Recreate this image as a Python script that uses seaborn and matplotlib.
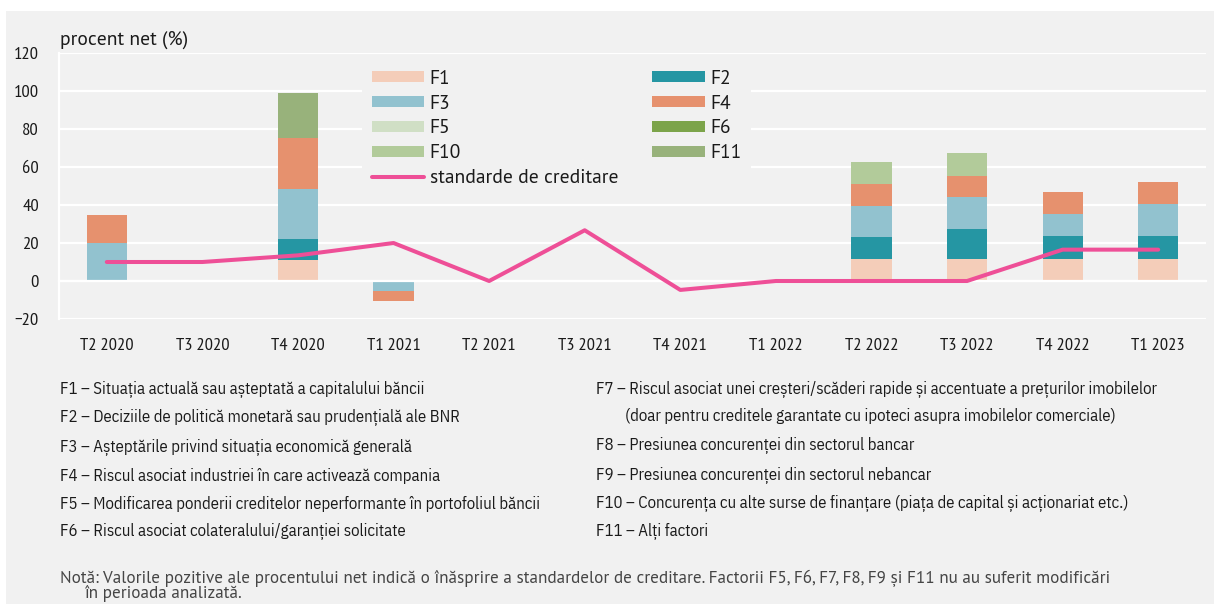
import numpy as np
import pandas as pd
import matplotlib
matplotlib.use("Agg")
import matplotlib.pyplot as plt
import seaborn as sns
from matplotlib.patches import Patch, Rectangle
from matplotlib.lines import Line2D

sns.set_style("white")
plt.rcParams["font.family"] = ["PT Sans", "Lato", "DejaVu Sans"]
NARROW = ["PT Sans Narrow", "Roboto Condensed", "IBM Plex Sans Condensed", "DejaVu Sans"]
COND = ["IBM Plex Sans Condensed", "PT Sans Narrow", "DejaVu Sans"]

# ─────────────────────────────────────────────
# Data
# ─────────────────────────────────────────────
quarters = ["T2 2020", "T3 2020", "T4 2020", "T1 2021", "T2 2021", "T3 2021",
            "T4 2021", "T1 2022", "T2 2022", "T3 2022", "T4 2022", "T1 2023"]

f1 = [0, 0, 11, 0, 0, 0, 0, 0, 11.5, 11.5, 11.5, 11.8]
f2 = [0, 0, 11, 0, 0, 0, 0, 0, 11.5, 16, 12, 11.9]
f3 = [20, 0, 26.5, -5.5, 0, 0, 0, 0, 16.5, 16.5, 12, 16.7]
f4 = [15, 0, 27, -5, 0, 0, 0, 0, 11.5, 11.5, 11.5, 11.6]
f5 = [0] * 12
f6 = [0] * 12
f10 = [0, 0, 0, 0, 0, 0, 0, 0, 11.5, 12, 0, 0]
f11 = [0, 0, 23.5, 0, 0, 0, 0, 0, 0, 0, 0, 0]
standards = [10, 10, 13.5, 20, 0, 26.7, -4.7, 0, 0, 0, 16.5, 16.5]

factors = ["F1", "F2", "F3", "F4", "F5", "F6", "F10", "F11"]
factor_values = [f1, f2, f3, f4, f5, f6, f10, f11]
factor_colors = ["#f4cdb9", "#2596a3", "#92c2cf", "#e6916e",
                 "#d0dfc5", "#7ca44a", "#b2cb9a", "#98b27b"]
line_label = "standarde de creditare"
line_color = "#ee4f97"

left_notes = [
    "F1 – Situația actuală sau așteptată a capitalului băncii",
    "F2 – Deciziile de politică monetară sau prudențială ale BNR",
    "F3 – Așteptările privind situația economică generală",
    "F4 – Riscul asociat industriei în care activează compania",
    "F5 – Modificarea ponderii creditelor neperformante în portofoliul băncii",
    "F6 – Riscul asociat colateralului/garanției solicitate",
]
right_notes = [
    "F7 – Riscul asociat unei creșteri/scăderi rapide și accentuate a prețurilor imobilelor",
    "(doar pentru creditele garantate cu ipoteci asupra imobilelor comerciale)",
    "F8 – Presiunea concurenței din sectorul bancar",
    "F9 – Presiunea concurenței din sectorul nebancar",
    "F10 – Concurența cu alte surse de finanțare (piața de capital și acționariat etc.)",
    "F11 – Alți factori",
]
note_lines = [
    "Notă: Valorile pozitive ale procentului net indică o înăsprire a standardelor de creditare. "
    "Factorii F5, F6, F7, F8, F9 și F11 nu au suferit modificări",
    "în perioada analizată.",
]

# ─────────────────────────────────────────────
# Figure
# ─────────────────────────────────────────────
W, H = 1220, 604
fig = plt.figure(figsize=(W / 100, H / 100), dpi=100, facecolor="white")
fig.patches.append(Rectangle((6 / W, 0), (1214 - 6) / W, (H - 11) / H,
                             transform=fig.transFigure, facecolor="#f1f1f1",
                             edgecolor="none", zorder=-5))

ax = fig.add_axes([59 / W, (H - 319) / H, (1206 - 59) / W, (319 - 53) / H])
ax.set_facecolor("none")
ax.set_axisbelow(True)

# stacked bars, positives stacked up from 0, negatives stacked down
pos_bottom = np.zeros(len(quarters))
neg_bottom = np.zeros(len(quarters))
for name, vals, col in zip(factors, factor_values, factor_colors):
    vals = np.asarray(vals, dtype=float)
    bottom = np.where(vals >= 0, pos_bottom, neg_bottom)
    df = pd.DataFrame({"quarter": quarters, "value": vals})
    sns.barplot(data=df, x="quarter", y="value", order=quarters, bottom=bottom,
                color=col, saturation=1, width=0.42, errorbar=None,
                linewidth=0, ax=ax, zorder=2)
    pos_bottom += np.where(vals > 0, vals, 0)
    neg_bottom += np.where(vals < 0, vals, 0)

sns.lineplot(x=quarters, y=standards, sort=False, color=line_color,
             linewidth=2.9, ax=ax, zorder=3)

# axes styling
ax.set_xlabel("")
ax.set_ylabel("")
ax.set_ylim(-20, 120)
ax.set_xlim(-0.5, len(quarters) - 0.5)
ax.set_yticks(np.arange(-20, 121, 20))
ax.yaxis.grid(True, color="white", linewidth=1.6)
ax.xaxis.grid(False)
for s in ["top", "right"]:
    ax.spines[s].set_visible(False)
ax.spines["left"].set_color("white")
ax.spines["left"].set_linewidth(1.6)
ax.spines["bottom"].set_position(("data", 0))
ax.spines["bottom"].set_color("white")
ax.spines["bottom"].set_linewidth(1.6)

ax.set_xticks(np.arange(-0.5, len(quarters), 1), minor=True)
ax.tick_params(axis="x", which="minor", direction="out", length=5,
               width=1.6, color="white")
ax.tick_params(axis="x", which="major", length=0, pad=41)
ax.tick_params(axis="y", length=0, pad=14.4)
for lab in ax.get_xticklabels() + ax.get_yticklabels():
    lab.set_family(NARROW)
    lab.set_fontsize(13.3)
    lab.set_color("#1a1a1a")

fig.text(60 / W, 1 - 40 / H, "procent net (%)", fontsize=14, color="#1a1a1a",
         va="center", ha="left")

# legend: column one F1, F3, F5, F10, line; column two F2, F4, F6, F11
lut = dict(zip(factors, factor_colors))
handles = [Patch(facecolor=lut[k], edgecolor="none") for k in ["F1", "F3", "F5", "F10"]]
handles.append(Line2D([], [], color=line_color, linewidth=2.9))
handles += [Patch(facecolor=lut[k], edgecolor="none") for k in ["F2", "F4", "F6", "F11"]]
labels = ["F1", "F3", "F5", "F10", line_label, "F2", "F4", "F6", "F11"]
leg = ax.legend(handles, labels, ncol=2, loc="upper left",
                bbox_to_anchor=(362 / W, 1 - 60 / H), bbox_transform=fig.transFigure,
                borderaxespad=0, borderpad=0.5, frameon=True, facecolor="#f1f1f1",
                edgecolor="none", framealpha=1, fancybox=False, fontsize=14,
                handlelength=2.7, handleheight=0.5, handletextpad=0.28,
                labelspacing=0.35, columnspacing=1.75)
for t in leg.get_texts():
    t.set_color("#1a1a1a")

# factor descriptions
left_y = [390, 418, 447, 476, 504, 532]
right_y = [390, 416, 446, 476, 504, 532]
right_x = [596, 625, 596, 596, 596, 596]
for txt, y in zip(left_notes, left_y):
    fig.text(60 / W, 1 - y / H, txt, family=COND, fontsize=12.1,
             color="#1a1a1a", va="center", ha="left")
for txt, x, y in zip(right_notes, right_x, right_y):
    fig.text(x / W, 1 - y / H, txt, family=COND, fontsize=12.1,
             color="#1a1a1a", va="center", ha="left")

fig.text(60 / W, 1 - 578 / H, note_lines[0], fontsize=12.3, color="#454545",
         va="center", ha="left")
fig.text(84 / W, 1 - 594 / H, note_lines[1], fontsize=12.3, color="#454545",
         va="center", ha="left")

fig.savefig("out.png", dpi=100, facecolor=fig.get_facecolor())
